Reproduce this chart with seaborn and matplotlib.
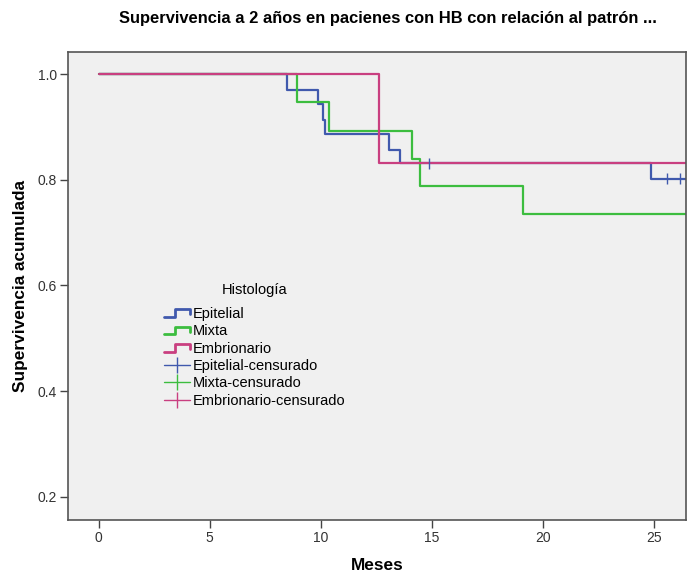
import matplotlib
matplotlib.use('Agg')

import numpy as np
import pandas as pd
import matplotlib.pyplot as plt
import seaborn as sns
from matplotlib.lines import Line2D
from matplotlib.legend_handler import HandlerBase

# DATA
groups = ["Epitelial", "Mixta", "Embrionario"]

epi_t = [0, 8.5, 9.88, 10.1, 10.18, 13.07, 13.59, 24.9, 26.5]
epi_s = [1.0, 0.971, 0.943, 0.914, 0.886, 0.857, 0.831, 0.802, 0.802]

mix_t = [0, 8.95, 10.36, 14.11, 14.48, 19.1, 26.5]
mix_s = [1.0, 0.947, 0.893, 0.840, 0.789, 0.736, 0.736]

emb_t = [0, 12.65, 26.5]
emb_s = [1.0, 0.831, 0.831]

# censored observations
cens_group = ["Epitelial", "Epitelial", "Epitelial"]
cens_t = [14.9, 25.62, 26.19]
cens_s = [0.831, 0.802, 0.802]

colors = {"Epitelial": "#4059ad", "Mixta": "#3cbd3f", "Embrionario": "#c93f80"}

curves = pd.concat([
    pd.DataFrame({"Histologia": "Epitelial", "Meses": epi_t, "Surv": epi_s}),
    pd.DataFrame({"Histologia": "Mixta", "Meses": mix_t, "Surv": mix_s}),
    pd.DataFrame({"Histologia": "Embrionario", "Meses": emb_t, "Surv": emb_s}),
], ignore_index=True)
censored = pd.DataFrame({"Histologia": cens_group, "Meses": cens_t, "Surv": cens_s})

sns.set_style("white")
plt.rcParams["font.family"] = ["Liberation Sans", "DejaVu Sans"]
plt.rcParams["text.color"] = "black"

fig = plt.figure(figsize=(6.88, 5.77), dpi=100)
ax = fig.add_axes([68 / 688, 1 - 520 / 577, (686 - 68) / 688, (520 - 52) / 577])
ax.set_facecolor("#f0f0f0")

sns.lineplot(data=curves, x="Meses", y="Surv", hue="Histologia", hue_order=groups,
             palette=colors, drawstyle="steps-post", estimator=None, sort=False,
             linewidth=1.6, legend=False, ax=ax)
sns.scatterplot(data=censored, x="Meses", y="Surv", hue="Histologia", hue_order=groups,
                palette=colors, marker="|", s=60, linewidth=1.0, legend=False,
                ax=ax, zorder=5)

ax.set_xlim(-1.38, 26.46)
ax.set_ylim(0.156, 1.042)
ax.set_xticks([0, 5, 10, 15, 20, 25])
ax.set_yticks([0.2, 0.4, 0.6, 0.8, 1.0])
ax.set_yticklabels(["0.2", "0.4", "0.6", "0.8", "1.0"])
ax.tick_params(axis="both", direction="out", length=6, width=1.0, color="#444444",
               labelsize=10, labelcolor="#333333", pad=2, left=True, bottom=True)
for sp in ax.spines.values():
    sp.set_color("#555555")
    sp.set_linewidth(1.2)

ax.set_xlabel("Meses", fontsize=12.4, fontweight="bold", color="black", labelpad=9)
ax.set_ylabel("Supervivencia acumulada", fontsize=12.4, fontweight="bold", color="black",
              labelpad=7)
fig.text(388 / 688, 1 - 18 / 577, "Supervivencia a 2 años en pacienes con HB con relación al patrón ...",
         ha="center", va="center", fontsize=11.9, fontweight="bold", color="black")


class StepHandler(HandlerBase):
    def create_artists(self, legend, orig_handle, xdescent, ydescent, width, height,
                       fontsize, trans):
        x0 = -xdescent
        y0 = -ydescent
        xs = [x0, x0 + 0.4 * width, x0 + 0.4 * width, x0 + width, x0 + width]
        ys = [y0 + 0.1 * height, y0 + 0.1 * height, y0 + 0.85 * height,
              y0 + 0.85 * height, y0 + 0.35 * height]
        ln = Line2D(xs, ys, color=orig_handle.get_color(), lw=2.0, transform=trans)
        return [ln]


step_handles = [Line2D([], [], color=colors[g]) for g in groups]
cens_handles = [Line2D([], [], color=colors[g], lw=1.0, marker="|", markersize=11,
                       markeredgewidth=1.0, markeredgecolor=colors[g]) for g in groups]
handles = step_handles + cens_handles
labels = groups + [g + "-censurado" for g in groups]
leg = ax.legend(handles, labels, title="Histología", frameon=False, fontsize=10.5,
                title_fontsize=10.5, loc="upper left",
                bbox_to_anchor=(157 / 688, 1 - 276 / 577), bbox_transform=fig.transFigure,
                borderpad=0, handlelength=1.75, handletextpad=0.2, labelspacing=0.23,
                handler_map={h: StepHandler() for h in step_handles})
leg._legend_box.sep = 7

fig.savefig("out.png", dpi=100, facecolor="white")
